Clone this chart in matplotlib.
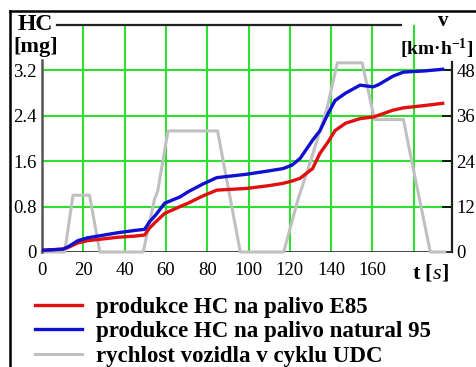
import matplotlib
matplotlib.use("Agg")
import matplotlib.pyplot as plt

# ---- data ----
t_hc = [0, 10, 12.6, 17.4, 22, 27, 36.8, 45, 49.7, 52, 55, 59.4, 66.8, 70.7, 78, 84.6,
        99, 110, 116.7, 121, 125, 131, 134.6, 138.5, 141.9, 147, 154, 160.4, 163, 170,
        175, 185, 194]
hc_n95 = [0.03, 0.05, 0.09, 0.20, 0.25, 0.28, 0.34, 0.38, 0.40, 0.53, 0.65, 0.86, 0.97,
          1.06, 1.20, 1.31, 1.37, 1.43, 1.47, 1.53, 1.65, 1.97, 2.14, 2.44, 2.67, 2.80,
          2.94, 2.91, 2.95, 3.10, 3.17, 3.19, 3.22]
hc_e85 = [0.03, 0.05, 0.08, 0.16, 0.20, 0.22, 0.26, 0.28, 0.30, 0.42, 0.53, 0.68, 0.80,
          0.86, 0.99, 1.09, 1.12, 1.17, 1.21, 1.25, 1.30, 1.47, 1.74, 1.94, 2.14, 2.27,
          2.35, 2.38, 2.41, 2.50, 2.54, 2.58, 2.62]

t_v = [0, 11, 15, 23, 28, 49, 54.5, 56, 61, 85, 96, 117, 124, 130, 138, 143, 155, 161,
       175, 179, 188, 195]
v_kmh = [0, 0, 15, 15, 0, 0, 14, 16, 32, 32, 0, 0, 14, 24, 38, 50, 50, 35,
         35, 24, 0, 0]

x_ticks = [0, 20, 40, 60, 80, 100, 120, 140, 160]
x_grid = [20, 40, 60, 80, 100, 120, 140, 160, 180]
hc_ticks = [0, 0.8, 1.6, 2.4, 3.2]
hc_tick_labels = ["0", "0.8", "1.6", "2.4", "3.2"]
v_ticks = [0, 12, 24, 36, 48]

labels = ["produkce HC na palivo E85", "produkce HC na palivo natural 95",
          "rychlost vozidla v cyklu UDC"]

# ---- style ----
plt.rcParams['font.family'] = ['Liberation Serif', 'DejaVu Serif']
plt.rcParams['mathtext.fontset'] = 'custom'
plt.rcParams['mathtext.rm'] = 'Liberation Serif'
plt.rcParams['mathtext.bf'] = 'Liberation Serif:bold'
plt.rcParams['mathtext.it'] = 'Liberation Serif:italic'

W, H = 477, 367
fig = plt.figure(figsize=(W / 100, H / 100), dpi=100)
fig.patch.set_facecolor('white')

def fx(x):
    return x / W

def fy(y):
    return 1 - y / H

GREEN = '#2ee02e'

# speed axis (drawn first, underneath)
ax2 = fig.add_axes([fx(42), fy(252), fx(410), 227 / H])
ax = ax2.twinx()
ax.set_zorder(ax2.get_zorder() + 1)
ax.patch.set_visible(False)

XMAX = 198.5
ax2.set_xlim(0, XMAX)
ax2.set_ylim(0, 60)
ax.set_ylim(0, 4)

# grid (in speed units)
ax2.vlines(x_grid, 0, 60, colors=GREEN, lw=1.5, zorder=1)
ax2.hlines(v_ticks[1:], 0, XMAX, colors=GREEN, lw=1.5, zorder=1)
# baseline
ax2.axhline(0, color='#333333', lw=2, zorder=2)
# top line
ax2.plot([7.3, 174], [60, 60], color='#222222', lw=1.6, clip_on=False, zorder=2)

l_v, = ax2.plot(t_v, v_kmh, color='#c0c0c0', lw=2.2, zorder=3, clip_on=False)
l_e85, = ax.plot(t_hc, hc_e85, color='#e01010', lw=2.4, zorder=3)
l_n95, = ax.plot(t_hc, hc_n95, color='#1010d0', lw=2.4, zorder=4)

# ticks
ax2.yaxis.tick_right()
ax.yaxis.tick_left()
ax2.set_yticks(v_ticks)
ax2.set_yticklabels([str(v) for v in v_ticks])
ax2.tick_params(axis='y', direction='in', length=7, width=1.2, color='black',
                labelsize=13.5, pad=3)
ax.set_yticks(hc_ticks)
ax.set_yticklabels(hc_tick_labels)
ax.tick_params(axis='y', length=0, labelsize=13.5, pad=4)
ax2.set_xticks(x_ticks)
ax2.set_xticklabels([str(x) for x in x_ticks])
ax2.tick_params(axis='x', length=0, labelsize=13.5, pad=7)
ax.tick_params(axis='x', length=0)

for a in (ax, ax2):
    for s in a.spines.values():
        s.set_visible(False)
ax.spines['left'].set_visible(True)
ax.spines['left'].set_bounds(0, 3.38)
ax.spines['left'].set_color('#555555')
ax.spines['left'].set_linewidth(1.8)
ax2.spines['right'].set_visible(True)
ax2.spines['right'].set_bounds(0, 50.3)
ax2.spines['right'].set_color('#222222')
ax2.spines['right'].set_linewidth(1.6)

# axis titles
fig.text(fx(35), fy(24), "HC", fontsize=17, fontweight='bold', ha='center', va='center')
fig.text(fx(36), fy(47), "[mg]", fontsize=16, fontweight='bold', ha='center', va='center')
fig.text(fx(443), fy(21), "v", fontsize=15, fontweight='bold', ha='center', va='center')
fig.text(fx(437), fy(49), r"[km·h$^{\mathbf{-1}}$]", fontsize=14, fontweight='bold',
         ha='center', va='center')
fig.text(fx(430), fy(273), r"t [$\mathit{s}$]", fontsize=16, fontweight='bold',
         ha='center', va='center')

# legend
fig.legend([l_e85, l_n95, l_v], labels, loc='upper left',
           bbox_to_anchor=(fx(35), fy(297)), frameon=False,
           prop={'family': 'Liberation Serif', 'weight': 'bold', 'size': 16.5},
           handlelength=2.05, handletextpad=0.62, labelspacing=0.14,
           borderpad=0, borderaxespad=0)

# outer frame (left and top)
fig.add_artist(plt.Line2D([fx(10), fx(10)], [fy(11), 0], color='black', lw=1.8))
fig.add_artist(plt.Line2D([fx(10), 1], [fy(11), fy(11)], color='black', lw=1.8))

fig.savefig("out.png", dpi=100, facecolor='white')
